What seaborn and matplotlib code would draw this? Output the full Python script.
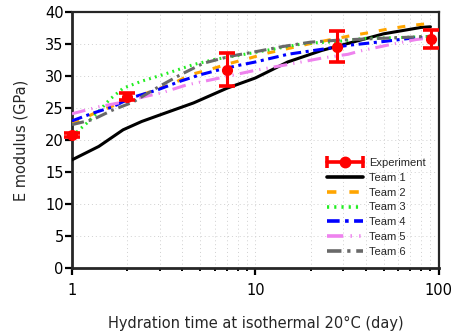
import numpy as np
import pandas as pd
import matplotlib
matplotlib.use("Agg")
import matplotlib.pyplot as plt
from matplotlib.lines import Line2D
from matplotlib.legend_handler import HandlerBase
from matplotlib.ticker import FixedLocator, LogLocator, NullFormatter, FixedFormatter
import seaborn as sns

# Measured E modulus (GPa) with scatter
exp_day = [1, 2, 7, 28, 91]
exp_E = [20.8, 26.8, 31.0, 34.6, 35.8]
exp_err = [0.3, 0.5, 2.6, 2.4, 1.4]

# Predictions of each modelling team
t1_day = [1, 1.4, 1.9, 2.4, 3, 4.6, 7, 10, 15, 23, 35, 50, 80, 90]
t1_E = [16.9, 19.0, 21.6, 22.9, 23.9, 25.8, 28.1, 29.7, 32.2, 34.0, 35.4, 36.6, 37.6, 37.7]

t2_day = [1, 1.35, 2, 2.7, 3.6, 4.4, 5.6, 7.3, 9.3, 11.7, 19.4, 33, 42, 54, 70, 88]
t2_E = [22.5, 24.3, 26.2, 27.6, 28.9, 30.2, 31.0, 32.0, 32.8, 33.6, 35.0, 36.3, 36.8, 37.4, 37.9, 38.2]

t3_day = [1, 1.2, 1.4, 1.6, 1.9, 2.4, 3.2, 4.6, 6, 7.6, 10, 18.6, 28, 40, 60, 90]
t3_E = [20.6, 22.6, 24.5, 26.3, 28.1, 29.2, 30.3, 31.8, 32.6, 33.1, 33.7, 35.1, 35.4, 35.9, 36.0, 36.2]

t4_day = [1, 1.3, 1.67, 2.1, 2.9, 3.9, 5, 6.4, 8.2, 10, 15, 22, 32, 50, 70, 90]
t4_E = [23.0, 24.2, 25.2, 26.6, 27.8, 29.2, 30.2, 31.0, 31.7, 32.2, 33.4, 34.1, 34.8, 35.4, 35.9, 36.1]

t5_day = [1, 1.4, 1.8, 2.5, 3.1, 4.2, 6.4, 10, 15, 23, 32, 37, 56, 75, 91]
t5_E = [24.1, 25.2, 25.8, 26.8, 27.4, 28.6, 29.7, 30.9, 31.8, 32.8, 33.4, 33.9, 35.0, 35.7, 36.0]

t6_day = [1, 1.3, 1.67, 2.14, 3, 3.9, 5.2, 7.3, 10, 14, 20, 28, 40, 60, 90]
t6_E = [22.4, 23.2, 24.7, 25.9, 28.4, 30.2, 32.0, 33.1, 33.8, 34.6, 35.3, 35.6, 35.8, 36.0, 36.2]

teams = ["Team 1", "Team 2", "Team 3", "Team 4", "Team 5", "Team 6"]
team_days = [t1_day, t2_day, t3_day, t4_day, t5_day, t6_day]
team_E = [t1_E, t2_E, t3_E, t4_E, t5_E, t6_E]

colors = ["black", "orange", "#22ee22", "blue", "violet", "dimgray"]
dash_styles = ["", (2.6, 3.6), (0.6, 1.4), (3.5, 1.5, 1.0, 1.5),
               (4.5, 2.0, 0.4, 2.0, 0.4, 2.0), (4.0, 1.6, 0.9, 1.6)]

frames = [pd.DataFrame({"day": d, "E": e, "team": t})
          for t, d, e in zip(teams, team_days, team_E)]
df = pd.concat(frames, ignore_index=True)

sns.set_style("ticks")
plt.rcParams["font.family"] = ["DejaVu Sans"]

fig = plt.figure(figsize=(4.6, 3.35), dpi=100)
ax = fig.add_axes([0.1565, 0.2, 0.7975, 0.764])

sns.lineplot(data=df, x="day", y="E", hue="team", style="team",
             palette=dict(zip(teams, colors)),
             dashes=dict(zip(teams, dash_styles)),
             estimator=None, linewidth=2.2, legend=False, ax=ax, zorder=3)

eb = ax.errorbar(exp_day, exp_E, yerr=exp_err, fmt="o", color="red",
                 ms=7, elinewidth=2.2, capsize=6, capthick=2.6, zorder=5)
for art in eb.get_children():
    art.set_clip_on(False)

ax.set_xscale("log")
ax.set_xlim(1, 100)
ax.set_ylim(0, 40)
ax.xaxis.set_major_locator(FixedLocator([1, 10, 100]))
ax.xaxis.set_major_formatter(FixedFormatter(["1", "10", "100"]))
ax.xaxis.set_minor_locator(LogLocator(base=10, subs=np.arange(2, 10)))
ax.xaxis.set_minor_formatter(NullFormatter())
ax.set_yticks(np.arange(0, 41, 5))

ax.grid(which="both", axis="x", ls=(0, (1, 3)), color="#d0d0d0", lw=0.7)
ax.grid(which="major", axis="y", ls=(0, (1, 3)), color="#d0d0d0", lw=0.7)
ax.set_axisbelow(True)

for side in ["left", "bottom"]:
    ax.spines[side].set_linewidth(2.0)
for side in ["top", "right"]:
    ax.spines[side].set_linewidth(1.6)
    ax.spines[side].set_visible(True)

ax.tick_params(axis="both", which="major", direction="out", length=5, width=1.6,
               labelsize=10.5, color="black", labelcolor="black")
ax.tick_params(axis="y", which="major", pad=1)
ax.tick_params(axis="x", which="major", pad=6)
ax.tick_params(axis="x", which="minor", direction="out", length=2.5, width=1.4,
               color="black")

ax.set_xlabel("Hydration time at isothermal 20°C (day)", fontsize=10.5, labelpad=13)
ax.set_ylabel("E modulus (GPa)", fontsize=10.5, labelpad=12)


class ExperimentHandler(HandlerBase):
    def create_artists(self, legend, orig_handle, xdescent, ydescent,
                       width, height, fontsize, trans):
        y = height / 2 - ydescent
        x0, x1 = -xdescent, width - xdescent
        bar = Line2D([x0, x1], [y, y], color="red", lw=2.6)
        caps = Line2D([x0, x1], [y, y], ls="none", marker="|", ms=8,
                      mew=2.6, color="red")
        dot = Line2D([(x0 + x1) / 2], [y], ls="none", marker="o", ms=7.5,
                     color="red")
        for a in (bar, caps, dot):
            a.set_transform(trans)
        return [bar, caps, dot]


handles = [eb]
labels = ["Experiment"]
for t, c, d in zip(teams, colors, dash_styles):
    ln = Line2D([], [], color=c, lw=2.6)
    if d:
        ln.set_dashes(d)
    handles.append(ln)
    labels.append(t)

ax.legend(handles, labels, loc="lower right", bbox_to_anchor=(0.985, 0.012),
          frameon=False, handlelength=3.3, handletextpad=0.5,
          labelspacing=0.44, borderaxespad=0.3,
          prop={"family": "Liberation Sans", "size": 8},
          handler_map={type(eb): ExperimentHandler()})

fig.savefig("out.png", dpi=100)
